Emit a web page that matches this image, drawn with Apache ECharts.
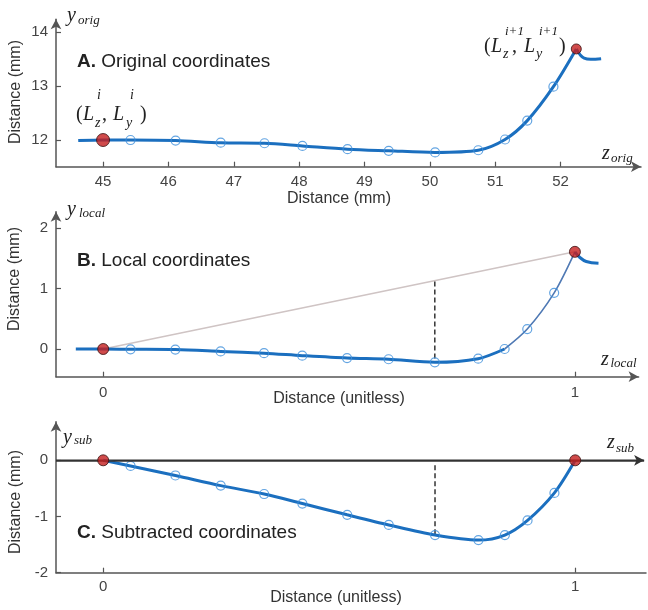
<!DOCTYPE html>
<html><head><meta charset="utf-8">
<script src="https://cdn.jsdelivr.net/npm/echarts@6/dist/echarts.min.js"></script>
<style>html,body{margin:0;padding:0;background:#fff}#c{width:648px;height:610px}</style>
</head><body><div id="c"></div>
<script>
// ---------- Panel A: original coordinates ----------
const origLeadZ = [44.62], origLeadY = [11.99];
const origEndZ = [45.00, 52.24], origEndY = [12.00, 13.69];
const origZ = [45.42, 46.11, 46.80, 47.47, 48.05, 48.74, 49.37, 50.08, 50.74, 51.15, 51.49, 51.89];
const origY = [12.00, 11.99, 11.95, 11.94, 11.89, 11.83, 11.80, 11.77, 11.81, 12.01, 12.36, 12.99];
const origTailZ = [52.30, 52.36, 52.46, 52.62];
const origTailY = [13.58, 13.52, 13.50, 13.51];
const origXTicks = [45, 46, 47, 48, 49, 50, 51, 52];
const origYTicks = [12, 13, 14];

// ---------- Panel B: local coordinates ----------
const localLeadZ = [-0.058], localLeadY = [0.0];
const localEndZ = [0, 1], localEndY = [0, 1.61];
const localZ = [0.058, 0.153, 0.249, 0.341, 0.422, 0.517, 0.605, 0.703, 0.795, 0.851, 0.899, 0.956];
const localY = [-0.005, -0.01, -0.04, -0.07, -0.11, -0.15, -0.17, -0.22, -0.16, 0.0, 0.33, 0.93];
const localTailZ = [1.01, 1.024, 1.05];
const localTailY = [1.52, 1.45, 1.42];
const localDashZ = [0.703, 0.703], localDashY = [1.12, -0.2];
const localXTicks = [0, 1];
const localYTicks = [0, 1, 2];

// ---------- Panel C: subtracted coordinates ----------
const subEndZ = [0, 1], subEndY = [0, 0];
const subZ = [0.058, 0.153, 0.249, 0.341, 0.422, 0.517, 0.605, 0.703, 0.795, 0.851, 0.899, 0.956];
const subY = [-0.10, -0.27, -0.45, -0.60, -0.77, -0.97, -1.15, -1.33, -1.42, -1.33, -1.07, -0.58];
const subDashZ = [0.703, 0.703], subDashY = [-0.09, -1.31];
const subAxisZ = [-0.1, 1.146], subAxisY = [0, 0];
const subXTicks = [0, 1];
const subYTicks = [-2, -1, 0];

const zip = (a, b) => a.map((v, i) => [v, b[i]]);
const BLUE = '#1b6fbf', CIRC = '#3d8fdb', RED = '#c41e1e', AX = '#555';
const SANS = 'Liberation Sans', SERIF = 'Liberation Serif';

function xa(grid, min, max, ticks, arrow, margin) {
  return {type: 'value', gridIndex: grid, min: min, max: max,
    axisLine: {show: true, onZero: false, lineStyle: {color: AX, width: 1.5},
      symbol: arrow ? ['none', 'arrow'] : 'none', symbolSize: [8, 10]},
    axisTick: {show: true, inside: true, length: 5, customValues: ticks, lineStyle: {color: AX, width: 1.2}},
    axisLabel: {customValues: ticks, margin: margin, fontSize: 15, color: '#444', fontFamily: SANS},
    splitLine: {show: false}};
}
function ya(grid, min, max, ticks) {
  return {type: 'value', gridIndex: grid, min: min, max: max,
    axisLine: {show: true, onZero: false, lineStyle: {color: AX, width: 1.5},
      symbol: ['none', 'arrow'], symbolSize: [8, 10]},
    axisTick: {show: true, inside: true, length: 5, customValues: ticks, lineStyle: {color: AX, width: 1.2}},
    axisLabel: {customValues: ticks, margin: 8, fontSize: 15, color: '#444', fontFamily: SANS},
    splitLine: {show: false}};
}
function lineS(g, data, opt) {
  return Object.assign({type: 'line', xAxisIndex: g, yAxisIndex: g, data: data, showSymbol: false,
    symbol: 'none', smooth: 0.3, silent: true, lineStyle: {color: BLUE, width: 3}, z: 3}, opt || {});
}
function circS(g, data) {
  return {type: 'scatter', xAxisIndex: g, yAxisIndex: g, data: data, symbol: 'circle', symbolSize: 9, silent: true,
    itemStyle: {color: 'rgba(255,255,255,0)', borderColor: CIRC, borderWidth: 1.2}, z: 4};
}
function redS(g, data, sizes) {
  return {type: 'scatter', xAxisIndex: g, yAxisIndex: g, data: data, symbol: 'circle', silent: true,
    symbolSize: (v, p) => sizes[p.dataIndex],
    itemStyle: {color: RED, borderColor: '#3a1010', borderWidth: 1}, z: 5};
}

// text helpers (annotations only)
function T(x, y, text, size, extra) {
  return {type: 'text', silent: true, style: Object.assign({x: x, y: y, text: text, fontSize: size,
    fontFamily: SANS, fill: '#222', align: 'left', verticalAlign: 'middle'}, extra || {})};
}
function I(x, y, text, size) { return T(x, y, text, size, {fontFamily: SERIF, fontStyle: 'italic'}); }
function U(x, y, text, size) { return T(x, y, text, size, {fontFamily: SERIF}); }
function R(x, y, text) {
  return {type: 'text', silent: true, rotation: Math.PI / 2, x: x, y: y,
    style: {x: 0, y: 0, text: text, fontSize: 16, fontFamily: SANS, fill: '#333', align: 'center', verticalAlign: 'middle'}};
}
function title(x, y, letter, rest) {
  return {type: 'text', silent: true, style: {x: x, y: y, text: '{b|' + letter + '}' + rest, fontSize: 19,
    fontFamily: SANS, fill: '#222', align: 'left', verticalAlign: 'middle',
    rich: {b: {fontSize: 19, fontWeight: 'bold', fontFamily: SANS, fill: '#222'}}}};
}

const graphics = [
  title(77, 62, 'A.', ' Original coordinates'),
  title(77, 261, 'B.', ' Local coordinates'),
  title(77, 533, 'C.', ' Subtracted coordinates'),
  R(16, 92, 'Distance (mm)'),
  R(15, 279, 'Distance (mm)'),
  R(16, 502, 'Distance (mm)'),
  T(339, 199, 'Distance (mm)', 16, {align: 'center', fill: '#333'}),
  T(339, 399, 'Distance (unitless)', 16, {align: 'center', fill: '#333'}),
  T(336, 598, 'Distance (unitless)', 16, {align: 'center', fill: '#333'}),
  // axis symbols
  I(67, 16, 'y', 20), I(78, 21, 'orig', 13),
  I(602, 154, 'z', 20), I(611, 159, 'orig', 13),
  I(67, 210, 'y', 20), I(79, 214, 'local', 13),
  I(601, 360, 'z', 20), I(610.5, 364, 'local', 13),
  I(63, 438, 'y', 20), I(74, 441, 'sub', 13),
  I(607, 443, 'z', 20), I(616, 449, 'sub', 13),
  // (L_z^i, L_y^i)
  U(76, 115, '(', 20), I(83, 115, 'L', 20), I(95, 123, 'z', 14), I(97, 95, 'i', 14),
  U(102, 115, ',', 20), I(113, 115, 'L', 20), I(126, 123, 'y', 14), I(130, 95, 'i', 14),
  U(140, 115, ')', 20),
  // (L_z^{i+1}, L_y^{i+1})
  U(484, 47, '(', 20), I(491, 47, 'L', 20), I(503, 54, 'z', 14), I(505, 32, 'i+1', 13),
  U(512, 47, ',', 20), I(524, 47, 'L', 20), I(536, 54, 'y', 14), I(539, 32, 'i+1', 13),
  U(559, 47, ')', 20)
];

// assembled series data
const aMain = [...zip(origLeadZ, origLeadY), [origEndZ[0], origEndY[0]], ...zip(origZ, origY), [origEndZ[1], origEndY[1]]];
const aHook = [[origEndZ[1], origEndY[1]], ...zip(origTailZ, origTailY)];
const bAll = [...zip(localLeadZ, localLeadY), [localEndZ[0], localEndY[0]], ...zip(localZ, localY), [localEndZ[1], localEndY[1]]];
const bThick = bAll.slice(0, 12);
const bThin = bAll.slice(11);
const bHook = [[localEndZ[1], localEndY[1]], ...zip(localTailZ, localTailY)];
const cMain = [[subEndZ[0], subEndY[0]], ...zip(subZ, subY), [subEndZ[1], subEndY[1]]];

const chart = echarts.init(document.getElementById('c'), null, {renderer: 'canvas'});
chart.setOption({
  animation: false,
  backgroundColor: '#fff',
  grid: [
    {left: 56, top: 19.3, width: 585, height: 147.4},
    {left: 56, top: 211.7, width: 582.6, height: 165},
    {left: 56, top: 421.7, width: 590, height: 151}
  ],
  xAxis: [
    xa(0, 44.28, 53.23, origXTicks, true, 8),
    xa(1, -0.1, 1.135, localXTicks, true, 9),
    xa(2, -0.1, 1.15, subXTicks, false, 7)
  ],
  yAxis: [
    ya(0, 11.505, 14.24, origYTicks),
    ya(1, -0.459, 2.275, localYTicks),
    ya(2, -2, 0.687, subYTicks)
  ],
  graphic: graphics,
  series: [
    lineS(0, aMain),
    lineS(0, aHook, {smooth: 0.4}),
    circS(0, zip(origZ, origY)),
    redS(0, zip(origEndZ, origEndY), [13, 10]),

    lineS(1, zip(localEndZ, localEndY), {smooth: false, lineStyle: {color: '#cfc4c4', width: 1.5}, z: 2}),
    lineS(1, zip(localDashZ, localDashY), {smooth: false, lineStyle: {color: '#333', width: 1.5, type: [5, 3]}, z: 2}),
    lineS(1, bThick),
    lineS(1, bThin, {lineStyle: {color: '#4f79b4', width: 1.6}}),
    lineS(1, bHook, {smooth: 0.4}),
    circS(1, zip(localZ, localY)),
    redS(1, zip(localEndZ, localEndY), [11, 11]),

    lineS(2, zip(subAxisZ, subAxisY), {smooth: false, lineStyle: {color: '#333', width: 1.5}, z: 1,
      markLine: {silent: true, symbol: ['none', 'arrow'], symbolSize: [8, 10], label: {show: false},
        lineStyle: {color: '#333', width: 1.5, type: 'solid'},
        data: [[{coord: [subAxisZ[0], subAxisY[0]]}, {coord: [subAxisZ[1], subAxisY[1]]}]]}}),
    lineS(2, zip(subDashZ, subDashY), {smooth: false, lineStyle: {color: '#333', width: 1.5, type: [5, 3]}, z: 2}),
    lineS(2, cMain),
    circS(2, zip(subZ, subY)),
    redS(2, zip(subEndZ, subEndY), [11, 11])
  ]
});
</script>
</body></html>
